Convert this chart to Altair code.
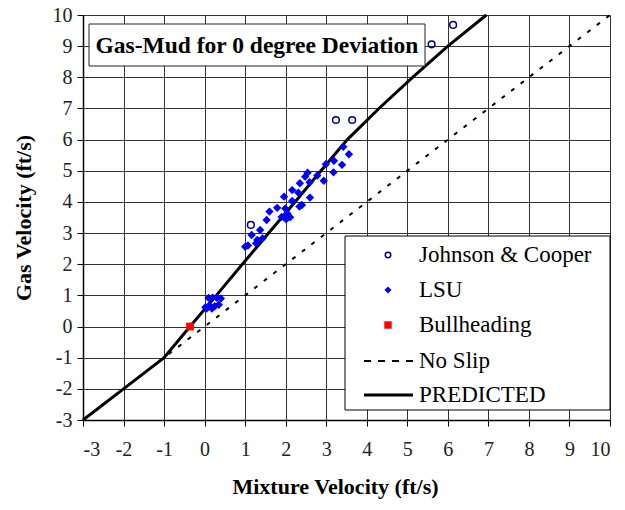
import altair as alt
import pandas as pd

# ---- data ----
jc_x = [1.14, 3.24, 3.64, 5.60, 6.13]
jc_y = [3.26, 6.63, 6.63, 9.06, 9.68]

lsu_x = [3.42, 3.56, 2.99, 3.19, 3.39, 3.18, 2.54, 2.48, 2.78, 2.59, 2.94, 2.35,
         2.16, 2.31, 1.96, 2.16, 2.34, 2.60, 1.79, 1.60, 1.99, 2.04, 2.11, 1.90,
         2.01, 1.53, 1.37, 1.16, 1.30, 1.43, 1.00, 1.27, 1.07, 2.40,
         0.10, 0.20, 0.30, 0.40, 0.02, 0.12, 0.25, 0.35, 0.05, 0.18]
lsu_y = [5.77, 5.53, 5.21, 5.32, 5.19, 4.95, 4.94, 4.81, 4.85, 4.63, 4.68, 4.60,
         4.38, 4.30, 4.17, 4.03, 3.85, 4.14, 3.81, 3.69, 3.79, 3.63, 3.51, 3.52,
         3.44, 3.42, 3.10, 2.94, 2.78, 2.83, 2.56, 2.67, 2.60, 3.90,
         0.92, 0.93, 0.92, 0.90, 0.62, 0.68, 0.65, 0.70, 0.58, 0.58]

bh_x = [-0.36]
bh_y = [0.0]

noslip_x = [-3, 10]
noslip_y = [-3, 10]

pred_x = [-3, -2, -1, -0.36, 0.29, 0.93, 1.58, 2.23, 2.87, 3.52, 4.30, 5.13, 6.0, 6.95]
pred_y = [-3, -2, -1, 0, 1, 2, 3, 4, 5, 6, 7, 8, 9, 10]

ticks = list(range(-3, 11))
legend_labels = ["Johnson & Cooper", "LSU", "Bullheading", "No Slip", "PREDICTED"]
chart_title = "Gas-Mud for 0 degree Deviation"

FONT = "Liberation Serif"
W, H = 527, 405

xs = alt.Scale(domain=[-3, 10], nice=False, zero=False)
ys = alt.Scale(domain=[-3, 10], nice=False, zero=False)

xax = alt.Axis(values=ticks, title="Mixture Velocity (ft/s)", grid=True,
               labelExpr="'' + datum.value", titleX=252)
yax = alt.Axis(values=ticks, title="Gas Velocity (ft/s)", grid=True,
               labelExpr="'' + datum.value")

jc = pd.DataFrame({"x": jc_x, "y": jc_y})
lsu = pd.DataFrame({"x": lsu_x, "y": lsu_y})
bh = pd.DataFrame({"x": bh_x, "y": bh_y})
ns = pd.DataFrame({"x": noslip_x, "y": noslip_y, "o": range(len(noslip_x))})
pr = pd.DataFrame({"x": pred_x, "y": pred_y, "o": range(len(pred_x))})

base_x = alt.X("x:Q", scale=xs, axis=xax)
base_y = alt.Y("y:Q", scale=ys, axis=yax)

l_ns = alt.Chart(ns).mark_line(color="black", strokeWidth=2, strokeDash=[4, 8]).encode(
    x=base_x, y=base_y, order="o:Q")
l_pr = alt.Chart(pr).mark_line(color="black", strokeWidth=3).encode(
    x=base_x, y=base_y, order="o:Q")
p_lsu = alt.Chart(lsu).mark_point(shape="diamond", filled=True, color="#0000FF",
                                  size=70, opacity=1).encode(x=base_x, y=base_y)
p_jc = alt.Chart(jc).mark_point(shape="circle", filled=False, color="#000080",
                                strokeWidth=1.5, size=45, opacity=1).encode(x=base_x, y=base_y)
p_bh = alt.Chart(bh).mark_point(shape="square", filled=True, color="#FF0000",
                                size=60, opacity=1).encode(x=base_x, y=base_y)

one = alt.Data(values=[{}])

# title box
t_box = alt.Chart(one).mark_rect(fill="white", stroke="#222", strokeWidth=1).encode(
    x=alt.value(6), x2=alt.value(342), y=alt.value(9), y2=alt.value(51))
t_txt = alt.Chart(one).mark_text(font=FONT, fontSize=23.5, fontWeight="bold",
                                 align="center", baseline="middle", color="black",
                                 text=chart_title).encode(
    x=alt.value(174), y=alt.value(31))

# legend
lg_box = alt.Chart(one).mark_rect(fill="white", stroke="black", strokeWidth=1).encode(
    x=alt.value(262), x2=alt.value(527), y=alt.value(221), y2=alt.value(395))
row_y = [240, 275, 310, 346, 380]
sym_x = 305
txt_x = 336
lg_layers = [lg_box]
lg_layers.append(alt.Chart(one).mark_point(shape="circle", filled=False, color="#000080",
                                           strokeWidth=1.5, size=30, opacity=1).encode(
    x=alt.value(sym_x), y=alt.value(row_y[0])))
lg_layers.append(alt.Chart(one).mark_point(shape="diamond", filled=True, color="#0000FF",
                                           size=50, opacity=1).encode(
    x=alt.value(sym_x), y=alt.value(row_y[1])))
lg_layers.append(alt.Chart(one).mark_point(shape="square", filled=True, color="#FF0000",
                                           size=55, opacity=1).encode(
    x=alt.value(sym_x), y=alt.value(row_y[2])))
lg_layers.append(alt.Chart(one).mark_rule(color="black", strokeWidth=2, strokeDash=[7, 7]).encode(
    x=alt.value(281), x2=alt.value(330), y=alt.value(row_y[3])))
lg_layers.append(alt.Chart(one).mark_rule(color="black", strokeWidth=3).encode(
    x=alt.value(281), x2=alt.value(330), y=alt.value(row_y[4])))
for lab, ry in zip(legend_labels, row_y):
    lg_layers.append(alt.Chart(one).mark_text(font=FONT, fontSize=23, align="left",
                                              baseline="middle", color="black",
                                              text=lab).encode(
        x=alt.value(txt_x), y=alt.value(ry)))

chart = alt.layer(l_ns, l_pr, p_lsu, p_jc, p_bh, t_box, t_txt, *lg_layers).properties(
    width=W, height=H,
    autosize=alt.AutoSizeParams(type="none"),
    padding={"left": 83, "top": 15, "right": 15, "bottom": 90},
    background="white",
).configure_view(stroke=None).configure_axis(
    gridColor="#333", gridWidth=1, gridOpacity=1,
    domainColor="black", domainWidth=1.5,
    tickColor="black", tickSize=6, tickWidth=1,
    labelFont=FONT, labelFontSize=20, labelColor="#222",
    titleFont=FONT, titleFontSize=22, titleFontWeight="bold", titleColor="black",
).configure_axisX(labelPadding=13, titlePadding=17).configure_axisY(
    labelPadding=5, titlePadding=17)

chart.save("out.html", embed_options={"renderer": "svg", "actions": False})
